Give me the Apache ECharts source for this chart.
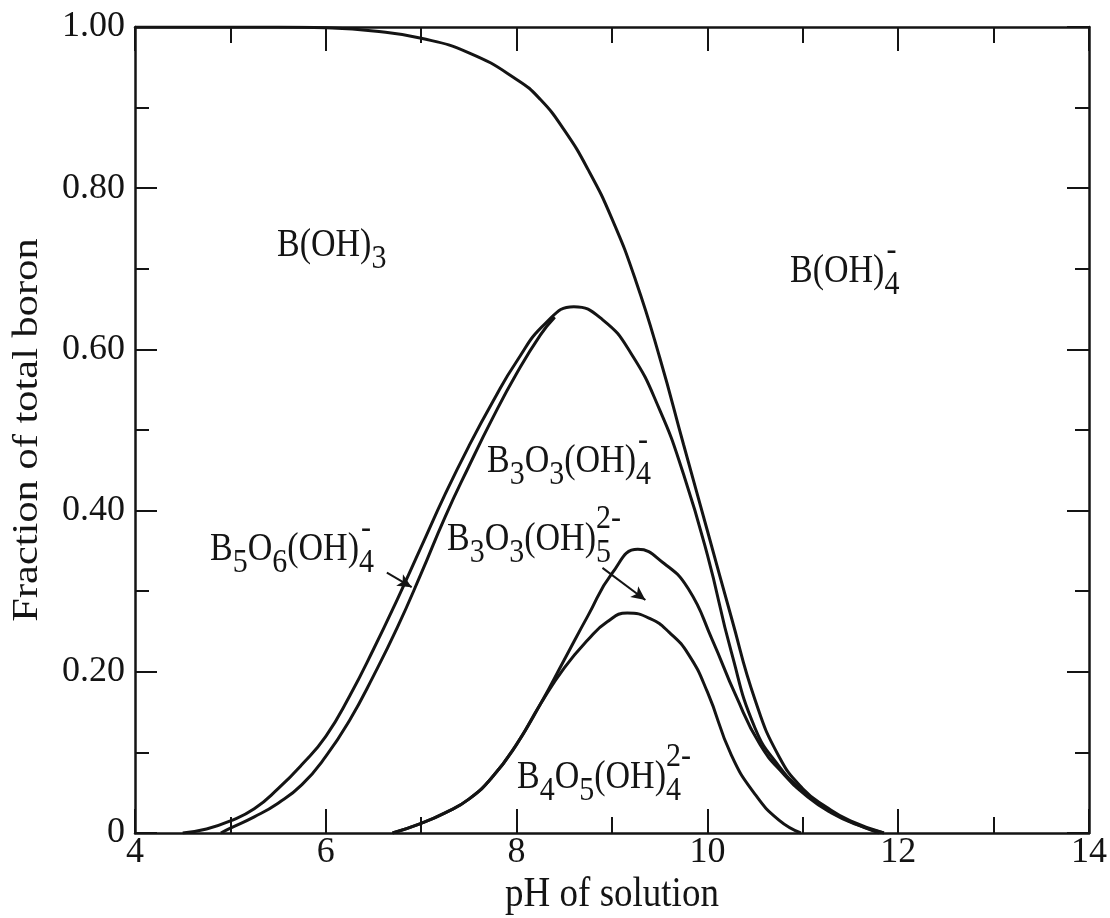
<!DOCTYPE html>
<html>
<head>
<meta charset="utf-8">
<script src="https://cdn.jsdelivr.net/npm/echarts@6/dist/echarts.min.js"></script>
<style>
html, body { margin: 0; padding: 0; background: #fff; }
#chart { width: 1110px; height: 918px; }
</style>
</head>
<body>
<div id="chart"></div>
<script>
// top curve, B(OH)3 | B(OH)4- boundary
var phTop   = [4, 5, 5.5, 6, 6.5, 7, 7.5, 8, 8.25, 8.5, 8.75, 9, 9.25, 9.5, 9.75, 10, 10.25, 10.5, 10.75, 11, 11.25, 11.5, 11.85];
var fracTop = [1, 1, 1, 0.999, 0.995, 0.986, 0.968, 0.935, 0.91, 0.872, 0.823, 0.762, 0.685, 0.59, 0.482, 0.375, 0.268, 0.165, 0.095, 0.055, 0.032, 0.015, 0];

// big bell, outer line (peak ~0.65)
var phOuter   = [4.5, 4.75, 5, 5.25, 5.5, 5.75, 6, 6.25, 6.5, 6.75, 7, 7.25, 7.5, 7.75, 8, 8.3, 8.6, 8.9, 9.2, 9.5, 9.75, 10, 10.25, 10.5, 10.75, 11, 11.25, 11.5, 11.8];
var fracOuter = [0, 0.005, 0.015, 0.03, 0.055, 0.085, 0.12, 0.17, 0.228, 0.29, 0.355, 0.42, 0.48, 0.535, 0.585, 0.632, 0.653, 0.637, 0.595, 0.525, 0.445, 0.345, 0.225, 0.13, 0.083, 0.052, 0.03, 0.014, 0];

// big bell, inner left line (B5O6(OH)4- band)
var phInner   = [4.9, 5, 5.25, 5.5, 5.75, 6, 6.25, 6.5, 6.75, 7, 7.25, 7.5, 7.75, 8, 8.25, 8.4];
var fracInner = [0, 0.006, 0.02, 0.037, 0.06, 0.095, 0.14, 0.195, 0.255, 0.322, 0.392, 0.455, 0.515, 0.57, 0.618, 0.64];

// bell with peak ~0.35
var phMid   = [6.7, 7, 7.25, 7.5, 7.75, 8, 8.25, 8.5, 8.75, 9, 9.27, 9.55, 9.8, 10.05, 10.3, 10.55, 10.8, 11.05, 11.3, 11.55, 11.85];
var fracMid = [0, 0.012, 0.025, 0.042, 0.07, 0.11, 0.16, 0.215, 0.27, 0.322, 0.352, 0.334, 0.303, 0.24, 0.17, 0.11, 0.073, 0.045, 0.025, 0.011, 0];

// bell with peak ~0.27, B4O5(OH)4 2-
var phLow   = [6.7, 7, 7.25, 7.5, 7.75, 8, 8.25, 8.5, 8.75, 8.95, 9.16, 9.4, 9.6, 9.8, 10, 10.25, 10.5, 10.75, 10.98];
var fracLow = [0, 0.012, 0.025, 0.042, 0.07, 0.11, 0.16, 0.205, 0.24, 0.262, 0.273, 0.266, 0.249, 0.222, 0.175, 0.097, 0.048, 0.016, 0];

var INK = '#141414';
var FONT = '"Liberation Serif", "Times New Roman", serif';
var MAIN = 34, SMALL = 30, STRETCH = 1.15;

function zip(xs, ys) {
    var out = [];
    for (var i = 0; i < xs.length; i++) out.push([xs[i], ys[i]]);
    return out;
}

function curve(xs, ys, extra) {
    var s = {
        type: 'line',
        data: zip(xs, ys),
        smooth: 0.5,
        symbol: 'none',
        clip: true,
        lineStyle: { color: INK, width: 3 },
        silent: true
    };
    if (extra) s.markLine = extra;
    return s;
}

var ctx = document.createElement('canvas').getContext('2d');
function textWidth(s, size) {
    ctx.font = size + 'px ' + FONT;
    return ctx.measureText(s).width;
}

function txt(x, y, s, size) {
    return {
        type: 'text', x: x, y: y, scaleY: STRETCH, silent: true,
        style: { text: s, fontSize: size, fontFamily: FONT, fill: INK, align: 'left', verticalAlign: 'middle' }
    };
}

// chemical formula: strings are normal text, {sub, sup} objects are stacked indices
function formula(x, y, parts) {
    var els = [], cx = x;
    parts.forEach(function (p) {
        if (typeof p === 'string') {
            els.push(txt(cx, y, p, MAIN));
            cx += textWidth(p, MAIN);
        } else {
            var w = 0;
            if (p.sub) { els.push(txt(cx, y + 13, p.sub, SMALL)); w = Math.max(w, textWidth(p.sub, SMALL)); }
            if (p.sup) { els.push(txt(cx + (p.supDx || 0), y - 21, p.sup, SMALL)); w = Math.max(w, textWidth(p.sup, SMALL)); }
            cx += w;
        }
    });
    return els;
}

var labels = [].concat(
    formula(277, 246, ['B(OH)', { sub: '3' }]),
    formula(790, 272, ['B(OH)', { sub: '4', sup: '-', supDx: 2 }]),
    formula(487, 462, ['B', { sub: '3' }, 'O', { sub: '3' }, '(OH)', { sub: '4', sup: '-', supDx: 2 }]),
    formula(447, 540, ['B', { sub: '3' }, 'O', { sub: '3' }, '(OH)', { sub: '5', sup: '2-' }]),
    formula(210, 550, ['B', { sub: '5' }, 'O', { sub: '6' }, '(OH)', { sub: '4', sup: '-', supDx: 2 }]),
    formula(517, 778, ['B', { sub: '4' }, 'O', { sub: '5' }, '(OH)', { sub: '4', sup: '2-' }])
);

labels.push({
    type: 'text', x: 28, y: 430, rotation: Math.PI / 2, scaleX: 1.18, silent: true,
    style: { text: 'Fraction of total boron', fontSize: 36, fontFamily: FONT, fill: INK, align: 'center', verticalAlign: 'middle' }
});
labels.push({
    type: 'text', x: 612, y: 895, scaleY: STRETCH, silent: true,
    style: { text: 'pH of solution', fontSize: 37, fontFamily: FONT, fill: INK, align: 'center', verticalAlign: 'middle' }
});

var arrows = {
    silent: true,
    symbol: ['none', 'arrow'],
    symbolSize: [10, 14],
    label: { show: false },
    lineStyle: { color: INK, width: 2, type: 'solid' },
    data: [
        [{ coord: [6.64, 0.323] }, { coord: [6.9, 0.305] }],
        [{ coord: [8.9, 0.329], lineStyle: { curveness: -0.25 } }, { coord: [9.35, 0.289] }]
    ]
};

function xAxisOf(pos) {
    return {
        type: 'value', min: 4, max: 14, interval: 2, position: pos,
        axisLine: { onZero: false, lineStyle: { color: INK, width: 2.5 } },
        axisTick: { inside: true, length: 24, lineStyle: { color: INK, width: 2 } },
        minorTick: { show: true, splitNumber: 2, length: 16, lineStyle: { color: INK, width: 2 } },
        splitLine: { show: false },
        axisLabel: { show: pos === 'bottom', margin: 2, fontSize: 36, fontFamily: FONT, color: INK }
    };
}
function yAxisOf(pos) {
    return {
        type: 'value', min: 0, max: 1, interval: 0.2, position: pos,
        axisLine: { onZero: false, lineStyle: { color: INK, width: 2.5 } },
        axisTick: { inside: true, length: 22, lineStyle: { color: INK, width: 2 } },
        minorTick: { show: true, splitNumber: 2, length: 14, lineStyle: { color: INK, width: 2 } },
        splitLine: { show: false },
        axisLabel: {
            show: pos === 'left', margin: 10, fontSize: 36, fontFamily: FONT, color: INK,
            formatter: function (v) { return v === 0 ? '0' : v.toFixed(2); }
        }
    };
}

var chart = echarts.init(document.getElementById('chart'));
chart.setOption({
    animation: false,
    backgroundColor: '#fff',
    grid: { left: 135, right: 20, top: 27, bottom: 85 },
    xAxis: [xAxisOf('bottom'), xAxisOf('top')],
    yAxis: [yAxisOf('left'), yAxisOf('right')],
    series: [
        curve(phTop, fracTop),
        curve(phOuter, fracOuter),
        curve(phInner, fracInner),
        curve(phMid, fracMid, arrows),
        curve(phLow, fracLow)
    ],
    graphic: labels
});
</script>
</body>
</html>
